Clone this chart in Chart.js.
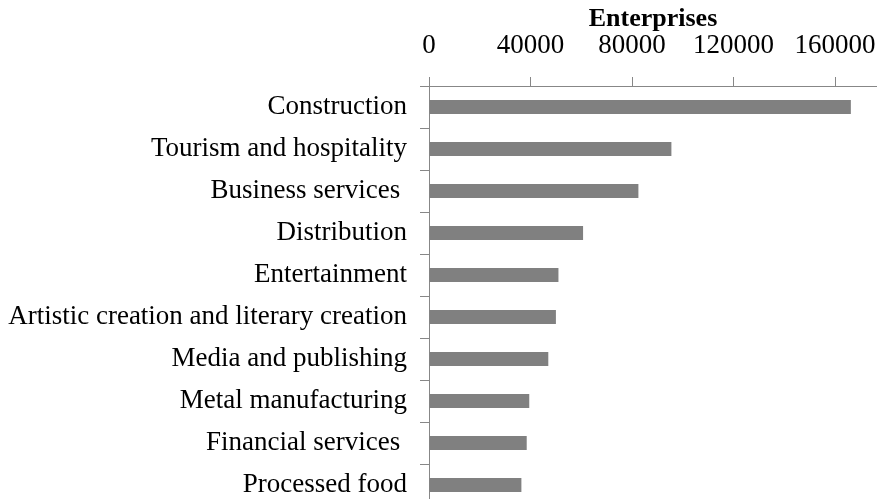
<!DOCTYPE html>
<html>
<head>
<meta charset="utf-8">
<script src="https://cdn.jsdelivr.net/npm/chart.js@4/dist/chart.umd.min.js"></script>
<style>
  html, body { margin: 0; padding: 0; background: #ffffff; overflow: hidden; }
  #wrap { width: 877px; height: 499px; overflow: hidden; }
  canvas { display: block; }
</style>
</head>
<body>
<div id="wrap"><canvas id="c" width="877" height="507"></canvas></div>
<script>
const categories = [
  "Construction",
  "Tourism and hospitality",
  "Business services ",
  "Distribution",
  "Entertainment",
  "Artistic creation and literary creation",
  "Media and publishing",
  "Metal manufacturing",
  "Financial services ",
  "Processed food"
];
const enterprises = [166200, 95500, 82500, 60700, 51000, 50000, 47000, 39500, 38500, 36400];
const xTickValues = [0, 40000, 80000, 120000, 160000];
const xMax = 176500;
const axisTitle = "Enterprises";

const serif = "'Liberation Serif', 'Times New Roman', serif";
const axisColor = '#878787';

function zeroPad(scale) {
  scale.paddingTop = 0;
  scale.paddingBottom = 0;
  scale.paddingLeft = 0;
  scale.paddingRight = 0;
}

new Chart(document.getElementById('c'), {
  type: 'bar',
  data: {
    labels: categories,
    datasets: [{
      data: enterprises,
      backgroundColor: '#808080',
      borderWidth: 0,
      barPercentage: 0.333,
      categoryPercentage: 1.0
    }]
  },
  options: {
    indexAxis: 'y',
    responsive: false,
    animation: false,
    layout: { padding: { top: 0, right: 0, bottom: 1, left: 0 } },
    plugins: { legend: { display: false }, tooltip: { enabled: false } },
    scales: {
      x: {
        position: 'top',
        min: 0,
        max: xMax,
        afterBuildTicks: (scale) => {
          scale.ticks = xTickValues.map(v => ({ value: v }));
        },
        afterFit: (scale) => { scale.height = 86; zeroPad(scale); },
        title: {
          display: true,
          text: axisTitle,
          color: '#000',
          font: { family: serif, size: 26, weight: 'bold' },
          padding: { top: 4, bottom: 0 }
        },
        ticks: {
          color: '#000',
          font: { family: serif, size: 27 },
          padding: 15,
          maxRotation: 0,
          autoSkip: false,
          callback: (v) => String(v)
        },
        grid: {
          drawOnChartArea: false,
          drawTicks: true,
          tickLength: 9,
          color: axisColor,
          lineWidth: 1
        },
        border: { display: true, color: axisColor, width: 1 }
      },
      y: {
        position: 'left',
        afterFit: (scale) => { scale.width = 429; zeroPad(scale); },
        ticks: {
          color: '#000',
          font: { family: serif, size: 27 },
          padding: 13,
          autoSkip: false
        },
        grid: {
          offset: true,
          drawOnChartArea: false,
          drawTicks: true,
          tickLength: 9,
          color: axisColor,
          lineWidth: 1
        },
        border: { display: true, color: axisColor, width: 1 }
      }
    }
  }
});
</script>
</body>
</html>
